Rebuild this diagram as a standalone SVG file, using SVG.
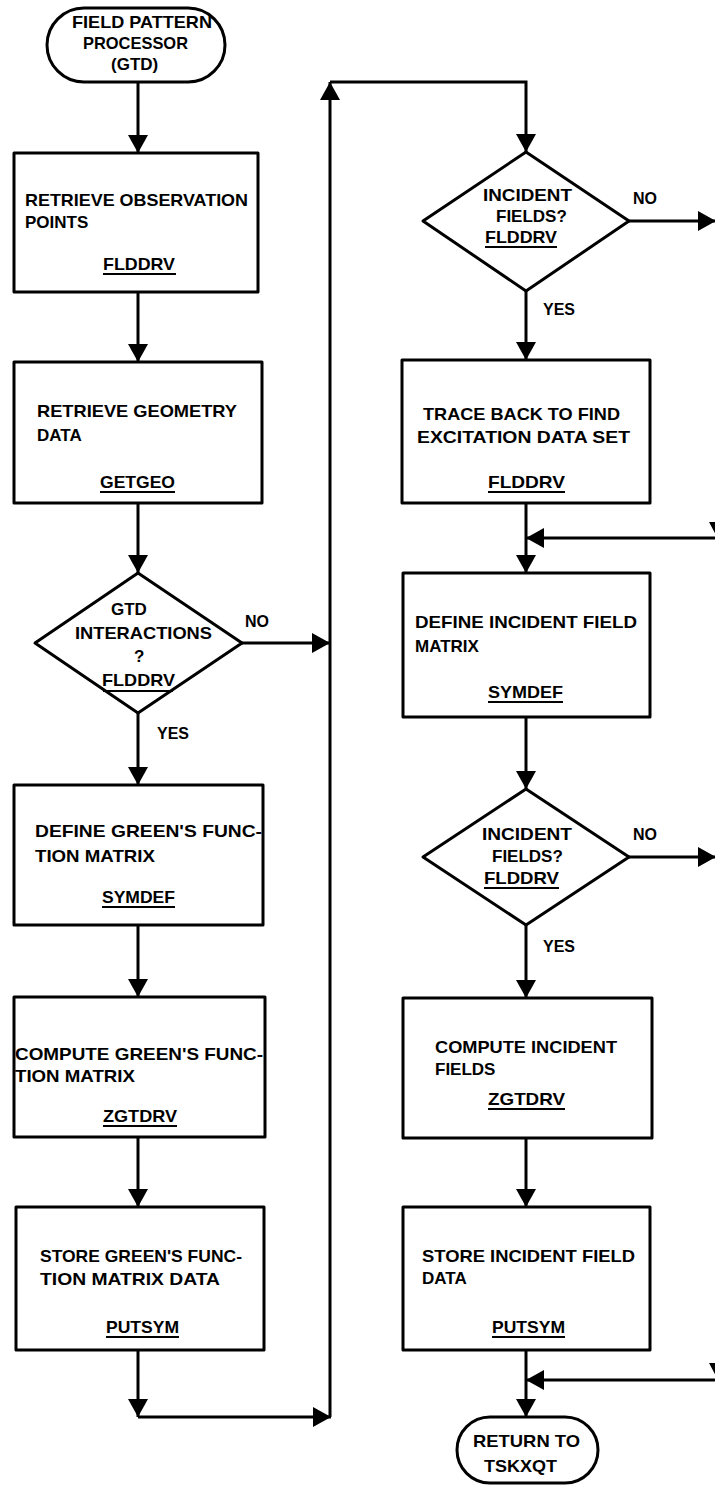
<svg xmlns="http://www.w3.org/2000/svg" width="715" height="1486" viewBox="0 0 715 1486">
  <defs>
    <marker id="arrow" markerUnits="userSpaceOnUse" markerWidth="20" markerHeight="20" refX="18" refY="10" orient="auto">
      <path d="M0,0 L18,10 L0,20 z" fill="#000"/>
    </marker>
  </defs>
  <style>
    .shape { fill: #fff; stroke: #000; stroke-width: 3; stroke-linejoin: round; }
    .edge { fill: none; stroke: #000; stroke-width: 3; }
    .t { font-family: "Liberation Sans", Arial, sans-serif; font-weight: bold; font-size: 17px; fill: #000; }
    .lbl { font-family: "Liberation Sans", Arial, sans-serif; font-weight: bold; font-size: 16px; fill: #000; }
    .ul { stroke: #000; stroke-width: 2; }
  </style>
  <rect width="715" height="1486" fill="#fff"/>

  <!-- connectors -->
  <g id="connectors">
    <path class="edge" d="M138,82 V153" marker-end="url(#arrow)"/>
    <path class="edge" d="M138,292 V362" marker-end="url(#arrow)"/>
    <path class="edge" d="M138,503 V573" marker-end="url(#arrow)"/>
    <path class="edge" d="M138,713 V785" marker-end="url(#arrow)"/>
    <path class="edge" d="M242,643 H330" marker-end="url(#arrow)"/>
    <path class="edge" d="M138,925 V997" marker-end="url(#arrow)"/>
    <path class="edge" d="M138,1137 V1207" marker-end="url(#arrow)"/>
    <path class="edge" d="M138,1350 V1417" marker-end="url(#arrow)"/>
    <path class="edge" d="M138,1417 H331" marker-end="url(#arrow)"/>
    <path class="edge" d="M330,1417 V82" marker-end="url(#arrow)"/>
    <path class="edge" d="M330,82 H526 V152" marker-end="url(#arrow)"/>

    <path class="edge" d="M526,291 V360" marker-end="url(#arrow)"/>
    <path class="edge" d="M629,221 H716" marker-end="url(#arrow)"/>
    <path class="edge" d="M526,503 V573" marker-end="url(#arrow)"/>
    <path class="edge" d="M716,538 H526" marker-end="url(#arrow)"/>
    <polygon points="709,522 727,522 718,539" fill="#000"/>
    <path class="edge" d="M526,717 V789" marker-end="url(#arrow)"/>
    <path class="edge" d="M629,857 H716" marker-end="url(#arrow)"/>
    <path class="edge" d="M526,925 V998" marker-end="url(#arrow)"/>
    <path class="edge" d="M526,1138 V1207" marker-end="url(#arrow)"/>
    <path class="edge" d="M526,1350 V1417" marker-end="url(#arrow)"/>
    <path class="edge" d="M716,1380 H526" marker-end="url(#arrow)"/>
    <polygon points="709,1363 727,1363 718,1380" fill="#000"/>

    <text class="lbl" x="245" y="627">NO</text>
    <text class="lbl" x="157" y="739">YES</text>
    <text class="lbl" x="633" y="204">NO</text>
    <text class="lbl" x="543" y="315">YES</text>
    <text class="lbl" x="633" y="840">NO</text>
    <text class="lbl" x="543" y="952">YES</text>
  </g>

  <!-- left column -->
  <g id="start">
    <rect class="shape" x="47" y="8" width="178" height="74" rx="37"/>
    <text class="t" x="72" y="28" textLength="140" lengthAdjust="spacingAndGlyphs">FIELD PATTERN</text>
    <text class="t" x="83" y="49" textLength="105" lengthAdjust="spacingAndGlyphs">PROCESSOR</text>
    <text class="t" x="111" y="70">(GTD)</text>
  </g>

  <g id="retrieve-points">
    <rect class="shape" x="14" y="153" width="244" height="139"/>
    <text class="t" x="25" y="206" textLength="223" lengthAdjust="spacingAndGlyphs">RETRIEVE OBSERVATION</text>
    <text class="t" x="25" y="228">POINTS</text>
    <text class="t" x="103" y="270" textLength="72" lengthAdjust="spacingAndGlyphs">FLDDRV</text>
    <line class="ul" x1="103" y1="274" x2="176" y2="274"/>
  </g>

  <g id="retrieve-geometry">
    <rect class="shape" x="14" y="362" width="248" height="141"/>
    <text class="t" x="37" y="417" textLength="200" lengthAdjust="spacingAndGlyphs">RETRIEVE GEOMETRY</text>
    <text class="t" x="37" y="441">DATA</text>
    <text class="t" x="100" y="488" textLength="75" lengthAdjust="spacingAndGlyphs">GETGEO</text>
    <line class="ul" x1="100" y1="492" x2="175" y2="492"/>
  </g>

  <g id="gtd-decision">
    <polygon class="shape" points="138,573 242,643 138,713 35,643"/>
    <text class="t" x="111" y="615">GTD</text>
    <text class="t" x="75" y="639" textLength="137" lengthAdjust="spacingAndGlyphs">INTERACTIONS</text>
    <text class="t" x="134" y="662">?</text>
    <text class="t" x="102" y="686" textLength="73" lengthAdjust="spacingAndGlyphs">FLDDRV</text>
    <line class="ul" x1="103" y1="691" x2="173" y2="691"/>
  </g>

  <g id="define-green">
    <rect class="shape" x="14" y="785" width="249" height="140"/>
    <text class="t" x="35" y="837" textLength="227" lengthAdjust="spacingAndGlyphs">DEFINE GREEN'S FUNC-</text>
    <text class="t" x="35" y="862" textLength="120" lengthAdjust="spacingAndGlyphs">TION MATRIX</text>
    <text class="t" x="102" y="903" textLength="73" lengthAdjust="spacingAndGlyphs">SYMDEF</text>
    <line class="ul" x1="102" y1="907" x2="175" y2="907"/>
  </g>

  <g id="compute-green">
    <rect class="shape" x="14" y="997" width="251" height="140"/>
    <text class="t" x="15" y="1060" textLength="248" lengthAdjust="spacingAndGlyphs">COMPUTE GREEN'S FUNC-</text>
    <text class="t" x="15" y="1082" textLength="120" lengthAdjust="spacingAndGlyphs">TION MATRIX</text>
    <text class="t" x="103" y="1122" textLength="74" lengthAdjust="spacingAndGlyphs">ZGTDRV</text>
    <line class="ul" x1="103" y1="1126" x2="177" y2="1126"/>
  </g>

  <g id="store-green">
    <rect class="shape" x="16" y="1207" width="248" height="143"/>
    <text class="t" x="40" y="1262" textLength="202" lengthAdjust="spacingAndGlyphs">STORE GREEN'S FUNC-</text>
    <text class="t" x="40" y="1285" textLength="180" lengthAdjust="spacingAndGlyphs">TION MATRIX DATA</text>
    <text class="t" x="106" y="1333" textLength="73" lengthAdjust="spacingAndGlyphs">PUTSYM</text>
    <line class="ul" x1="106" y1="1337" x2="179" y2="1337"/>
  </g>

  <!-- right column -->
  <g id="incident-decision-1">
    <polygon class="shape" points="526,152 629,221 526,291 423,221"/>
    <text class="t" x="483" y="201" textLength="89" lengthAdjust="spacingAndGlyphs">INCIDENT</text>
    <text class="t" x="496" y="222">FIELDS?</text>
    <text class="t" x="485" y="243" textLength="72" lengthAdjust="spacingAndGlyphs">FLDDRV</text>
    <line class="ul" x1="485" y1="247" x2="557" y2="247"/>
  </g>

  <g id="trace-back">
    <rect class="shape" x="402" y="360" width="248" height="143"/>
    <text class="t" x="423" y="420" textLength="197" lengthAdjust="spacingAndGlyphs">TRACE BACK TO FIND</text>
    <text class="t" x="417" y="443" textLength="213" lengthAdjust="spacingAndGlyphs">EXCITATION DATA SET</text>
    <text class="t" x="488" y="488" textLength="77" lengthAdjust="spacingAndGlyphs">FLDDRV</text>
    <line class="ul" x1="488" y1="492" x2="565" y2="492"/>
  </g>

  <g id="define-incident">
    <rect class="shape" x="403" y="573" width="247" height="144"/>
    <text class="t" x="415" y="628" textLength="222" lengthAdjust="spacingAndGlyphs">DEFINE INCIDENT FIELD</text>
    <text class="t" x="415" y="652">MATRIX</text>
    <text class="t" x="488" y="698" textLength="75" lengthAdjust="spacingAndGlyphs">SYMDEF</text>
    <line class="ul" x1="488" y1="702" x2="563" y2="702"/>
  </g>

  <g id="incident-decision-2">
    <polygon class="shape" points="526,789 629,857 526,925 423,857"/>
    <text class="t" x="482" y="840" textLength="90" lengthAdjust="spacingAndGlyphs">INCIDENT</text>
    <text class="t" x="492" y="862">FIELDS?</text>
    <text class="t" x="484" y="884" textLength="75" lengthAdjust="spacingAndGlyphs">FLDDRV</text>
    <line class="ul" x1="484" y1="888" x2="559" y2="888"/>
  </g>

  <g id="compute-incident">
    <rect class="shape" x="403" y="998" width="249" height="140"/>
    <text class="t" x="435" y="1053" textLength="182" lengthAdjust="spacingAndGlyphs">COMPUTE INCIDENT</text>
    <text class="t" x="435" y="1075">FIELDS</text>
    <text class="t" x="488" y="1105" textLength="77" lengthAdjust="spacingAndGlyphs">ZGTDRV</text>
    <line class="ul" x1="488" y1="1109" x2="565" y2="1109"/>
  </g>

  <g id="store-incident">
    <rect class="shape" x="403" y="1207" width="247" height="143"/>
    <text class="t" x="422" y="1262" textLength="213" lengthAdjust="spacingAndGlyphs">STORE INCIDENT FIELD</text>
    <text class="t" x="422" y="1284">DATA</text>
    <text class="t" x="492" y="1333" textLength="73" lengthAdjust="spacingAndGlyphs">PUTSYM</text>
    <line class="ul" x1="492" y1="1337" x2="565" y2="1337"/>
  </g>

  <g id="return">
    <rect class="shape" x="457" y="1417" width="141" height="66" rx="33"/>
    <text class="t" x="473" y="1447" textLength="107" lengthAdjust="spacingAndGlyphs">RETURN TO</text>
    <text class="t" x="484" y="1472" textLength="73" lengthAdjust="spacingAndGlyphs">TSKXQT</text>
  </g>
</svg>
